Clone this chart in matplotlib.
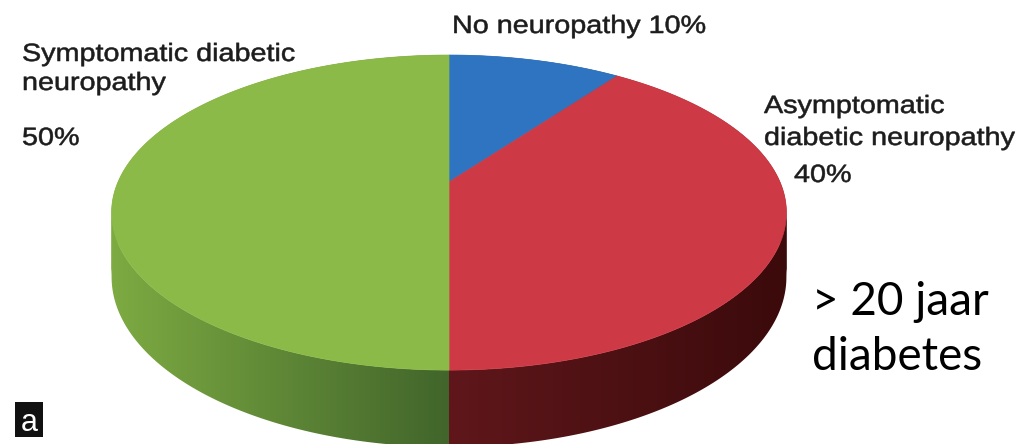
import numpy as np
import matplotlib.pyplot as plt
from matplotlib.patches import Polygon, Rectangle, PathPatch
from matplotlib.path import Path
from matplotlib.colors import LinearSegmentedColormap
from matplotlib.textpath import TextPath
from matplotlib.font_manager import FontProperties
from matplotlib.transforms import Affine2D

# slice data, clockwise from 12 o'clock
labels = ['No neuropathy', 'Asymptomatic diabetic neuropathy', 'Symptomatic diabetic neuropathy']
shares = [10, 40, 50]
top_colors = ['#2f74c1', '#cd3a45', '#8cba48']
side_light = ['#1d4a80', '#5f171b', '#7eab42']
side_dark = ['#133157', '#3b0a0b', '#41652b']

# projection of the disk (pixel space, y down)
cx, cy = 449, 182
a, b, k = 331, 151.6, 0.194
depth = 62

def project(t, drop=0.0):
    X, Y = np.cos(t), np.sin(t)
    s = 1.0 / (1 + k * Y)
    return cx + a * X * s, cy - b * Y * s + drop * s

fig = plt.figure(figsize=(10.24, 4.44), dpi=100)
ax = fig.add_axes([0, 0, 1, 1])

# angular ranges for each slice (radians, going clockwise)
fracs = np.array(shares) / sum(shares)
starts = np.pi / 2 - 2 * np.pi * np.concatenate([[0], np.cumsum(fracs)[:-1]])
ends = starts - 2 * np.pi * fracs

# side walls: union of small quads, shaded with a horizontal gradient
for i in range(len(shares)):
    ts = np.linspace(starts[i], ends[i], 300)
    tx, ty = project(ts)
    bx, by = project(ts, depth)
    verts, codes = [], []
    for j in range(len(ts) - 1):
        q = np.array([(tx[j], ty[j]), (tx[j + 1], ty[j + 1]),
                      (bx[j + 1], by[j + 1]), (bx[j], by[j])])
        area = np.sum(q[:, 0] * np.roll(q[:, 1], -1) - np.roll(q[:, 0], -1) * q[:, 1])
        if area < 0:
            q = q[::-1]
        verts += list(q) + [q[0]]
        codes += [Path.MOVETO, Path.LINETO, Path.LINETO, Path.LINETO, Path.CLOSEPOLY]
    wall = PathPatch(Path(verts, codes), facecolor='none', edgecolor='none')
    ax.add_patch(wall)
    x_lo, x_hi = (cx - a * 1.03, cx) if i == 2 else (cx, cx + a * 1.03)
    cmap = LinearSegmentedColormap.from_list(f'side{i}', [side_light[i], side_dark[i]])
    grad = np.linspace(0, 1, 256)[None, :]
    im = ax.imshow(grad, cmap=cmap, aspect='auto', interpolation='bilinear',
                   extent=(x_lo, x_hi, 444, 0))
    im.set_clip_path(wall)

# top faces
for i in range(len(shares)):
    ts = np.linspace(starts[i], ends[i], 300)
    px, py = project(ts)
    pts = [(cx, cy)] + list(zip(px, py))
    ax.add_patch(Polygon(pts, closed=True, facecolor=top_colors[i],
                         edgecolor=top_colors[i], lw=0.5))

ax.set_xlim(0, 1024)
ax.set_ylim(444, 0)
ax.axis('off')

# labels: Arial-like glyphs, slightly widened
lab_prop = FontProperties(family='Liberation Sans')

def label(x, y, s, size=25, widen=1.15, color='#1c1c1c'):
    tp = TextPath((0, 0), s, size=size, prop=lab_prop)
    path = Affine2D().scale(widen, -1).translate(x, y).transform_path(tp)
    ax.add_patch(PathPatch(path, facecolor=color, edgecolor=color, lw=0.4))

label(22, 61, 'Symptomatic diabetic')
label(22, 90, 'neuropathy')
label(22, 145, f'{shares[2]}%')
label(452, 33, f'No neuropathy {shares[0]}%')
label(764, 113, 'Asymptomatic')
label(764, 145, 'diabetic neuropathy')
label(794, 182, f'{shares[1]}%')

big_font = dict(family='Lato', fontsize=33, color='black')
ax.text(812, 315, '> 20 jaar', **big_font)
ax.text(812, 370, 'diabetes', **big_font)

ax.add_patch(Rectangle((15, 402), 28, 35, facecolor='#111111', edgecolor='none'))
ax.text(29, 431, 'a', family='Liberation Sans', fontsize=22, color='white', ha='center')

fig.savefig('out.png', dpi=100)
